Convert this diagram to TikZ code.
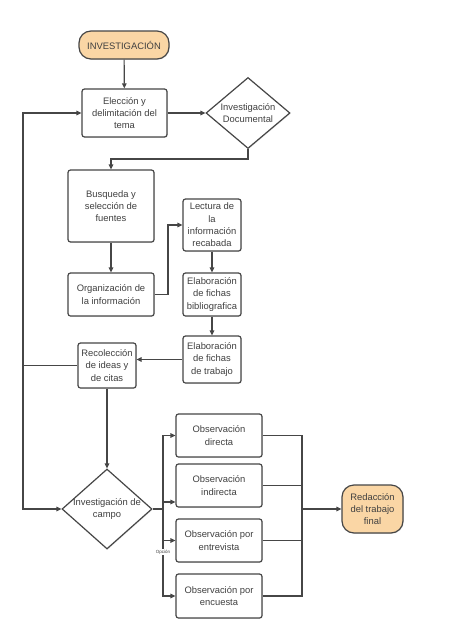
\documentclass[tikz,border=0pt]{standalone}
\usepackage{fontspec}
\setmainfont{Liberation Sans}
\usetikzlibrary{shapes.geometric,arrows.meta,shadows}
\definecolor{edge}{HTML}{464646}
\definecolor{txt}{HTML}{404040}
\definecolor{peach}{HTML}{FAD6A5}
\tikzset{
  base/.style={draw=edge, line width=1.2pt, text=txt, align=center, inner sep=1pt,
    font=\fontsize{9.4}{12.3}\selectfont,
    drop shadow={opacity=0.18, shadow xshift=0.8pt, shadow yshift=-0.8pt}},
  box/.style={base, rectangle, rounded corners=2.5pt, fill=white},
  term/.style={base, rectangle, rounded corners=12pt, fill=peach},
  dec/.style={base, diamond, fill=white, inner sep=-5pt},
  conn/.style={draw=edge, line width=1.2pt, -{Triangle[length=5pt,width=4.5pt]}},
  plain/.style={draw=edge, line width=1.2pt},
}
\begin{document}
\begin{tikzpicture}[x=1pt,y=-1pt]
\useasboundingbox[fill=white] (0,0) rectangle (463,629);
\node[term, minimum width=90, minimum height=28] (inv) at (124,45) {INVESTIGACIÓN};
\node[box, minimum width=85, minimum height=48] (elec) at (124.5,113) {Elección y\\delimitación del\\tema};
\node[dec, aspect=1.18, minimum width=84, minimum height=71] (doc) at (248,113) {Investigación\\Documental};
\node[box, minimum width=86, minimum height=72] (busq) at (111,206) {Busqueda y\\selección de\\fuentes};
\node[box, minimum width=86, minimum height=43] (org) at (111,294.5) {Organización de\\la información};
\node[box, minimum width=58, minimum height=52] (lect) at (212,225) {Lectura de\\la\\información\\recabada};
\node[box, minimum width=58, minimum height=43] (bib) at (212,294.5) {Elaboración\\de fichas\\bibliografica};
\node[box, minimum width=58, minimum height=47] (trab) at (212,359.5) {Elaboración\\de fichas\\de trabajo};
\node[box, minimum width=58, minimum height=45] (rec) at (107,365.5) {Recolección\\de ideas y\\de citas};
\node[dec, aspect=1.125, minimum width=90, minimum height=80] (campo) at (107,509) {Investigación de\\campo};
\node[box, minimum width=86, minimum height=43] (od) at (219,435.5) {Observación\\directa};
\node[box, minimum width=86, minimum height=43] (oi) at (219,485.5) {Observación\\indirecta};
\node[box, minimum width=86, minimum height=43] (oe) at (219,540.5) {Observación por\\entrevista};
\node[box, minimum width=86, minimum height=44] (oc) at (219,596) {Observación por\\encuesta};
\node[term, minimum width=61, minimum height=48] (red) at (372.5,509) {Redacción\\del trabajo\\final};

\coordinate (docturn) at (248,159);
\coordinate (orgturn) at (168,294.5);
\coordinate (loop) at (23,365.5);
\coordinate (split) at (163,509);
\coordinate (join) at (302,509);

\draw[conn] (inv) -- (elec);
\draw[conn] (elec) -- (doc);
\draw[conn] (doc.south) -- (docturn) -| (busq.north);
\draw[conn] (busq) -- (org);
\draw[conn] (org.east) -- (orgturn) |- (lect.west);
\draw[conn] (lect) -- (bib);
\draw[conn] (bib) -- (trab);
\draw[conn] (trab.west) -- (trab.west -| rec.east);
\draw[conn] (rec) -- (campo);
\draw[plain] (rec.west) -- (loop);
\draw[conn] (loop) |- (elec.west);
\draw[conn] (loop) |- (campo.west);
\draw[plain] (campo.east) -- (split);
\draw[conn] (split) |- (od.west);
\draw[conn] (split) |- ([yshift=-16.5pt]oi.west);
\draw[conn] (split) |- (oe.west);
\draw[conn] (split) |- (oc.west);
\draw[plain] (od.east) -| (join);
\draw[plain] (oi.east) -| (join);
\draw[plain] (oe.east) -| (join);
\draw[plain] (oc.east) -| (join);
\draw[conn] (join) -- (red);
\node[fill=white, text=txt, inner sep=0.6pt, font=\fontsize{4.5}{5}\selectfont] (opt) at (163,552) {Opción};
\end{tikzpicture}
\end{document}
